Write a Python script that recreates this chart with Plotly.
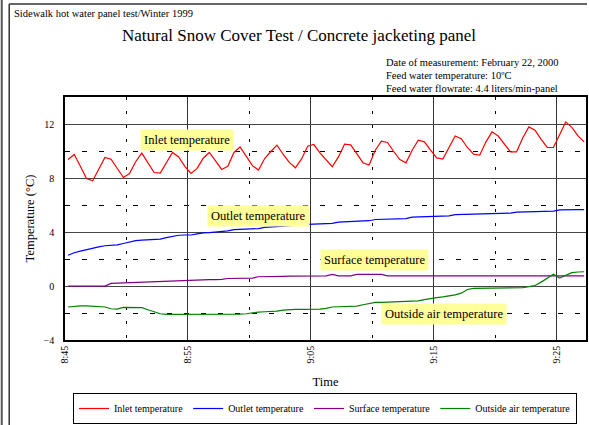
import plotly.graph_objects as go
import pandas as pd

# ---- data (30-second samples starting 8:45:15) ----
start_time = "2000-02-22 08:45:15"
sample_step = "30s"

inlet = [9.41, 9.78, 8.9, 8.0, 7.83, 8.7, 9.56, 9.43, 8.75, 8.07,
         8.37, 9.24, 9.88, 9.15, 8.44, 8.4, 9.15, 9.93, 9.6, 8.9,
         8.37, 8.75, 9.5, 9.93, 9.3, 8.67, 8.9, 9.93, 10.35, 9.6,
         8.95, 8.62, 9.48, 10.0, 10.47, 9.8, 9.19, 8.79, 9.45, 10.4,
         10.52, 9.9, 9.35, 8.87, 9.6, 10.55, 10.5, 9.8, 9.17, 9.0,
         10.1, 10.77, 10.67, 10.0, 9.4, 9.16, 10.1, 10.84, 10.72, 10.1,
         9.53, 9.44, 10.3, 11.16, 10.95, 10.3, 9.8, 9.73, 10.7, 11.46,
         11.15, 10.55, 9.98, 9.98, 11.0, 11.83, 11.58, 10.9, 10.3, 10.3,
         11.3, 12.2, 11.8, 11.16, 10.72]

outlet = [2.3, 2.48, 2.6, 2.72, 2.83, 2.92, 3.0, 3.04, 3.06, 3.17,
          3.27, 3.38, 3.42, 3.44, 3.46, 3.5, 3.6, 3.68, 3.78, 3.8,
          3.8, 3.88, 3.96, 3.98, 4.02, 4.06, 4.1, 4.2, 4.22, 4.24,
          4.26, 4.28, 4.36, 4.41, 4.43, 4.46, 4.5, 4.5, 4.55, 4.59,
          4.62, 4.64, 4.64, 4.66, 4.76, 4.78, 4.8, 4.82, 4.84, 4.86,
          4.95, 4.97, 4.98, 5.0, 5.0, 5.02, 5.13, 5.15, 5.17, 5.18,
          5.19, 5.2, 5.22, 5.31, 5.32, 5.33, 5.33, 5.34, 5.36, 5.38,
          5.39, 5.4, 5.42, 5.5, 5.52, 5.54, 5.55, 5.56, 5.57, 5.58,
          5.66, 5.68, 5.68, 5.68, 5.68]

surface = [0.0, 0.0, 0.0, 0.0, 0.0, 0.0, 0.0, 0.2, 0.22, 0.23,
           0.24, 0.25, 0.3, 0.32, 0.33, 0.34, 0.35, 0.36, 0.43, 0.44,
           0.45, 0.46, 0.47, 0.48, 0.49, 0.5, 0.57, 0.58, 0.58, 0.59,
           0.6, 0.7, 0.72, 0.72, 0.73, 0.73, 0.74, 0.74, 0.75, 0.75,
           0.76, 0.76, 0.76, 0.88, 0.76, 0.76, 0.77, 0.88, 0.89, 0.89,
           0.89, 0.88, 0.76, 0.76, 0.76, 0.76, 0.76, 0.76, 0.76, 0.76,
           0.76, 0.76, 0.76, 0.76, 0.76, 0.76, 0.76, 0.76, 0.76, 0.76,
           0.76, 0.76, 0.76, 0.76, 0.76, 0.76, 0.76, 0.76, 0.76, 0.76,
           0.76, 0.76, 0.76, 0.76, 0.76]

outside = [-1.55, -1.5, -1.47, -1.47, -1.48, -1.5, -1.55, -1.68, -1.7, -1.58,
           -1.57, -1.57, -1.6, -1.75, -1.9, -2.05, -2.1, -2.1, -2.1, -2.1,
           -2.12, -2.12, -2.1, -2.12, -2.12, -2.12, -2.1, -2.1, -2.08, -2.05,
           -1.98, -1.93, -1.9, -1.88, -1.86, -1.78, -1.73, -1.73, -1.72, -1.72,
           -1.71, -1.7, -1.65, -1.55, -1.53, -1.52, -1.5, -1.48, -1.38, -1.28,
           -1.21, -1.2, -1.18, -1.16, -1.14, -1.12, -1.11, -1.09, -1.0, -0.9,
           -0.85, -0.8, -0.74, -0.65, -0.52, -0.25, -0.17, -0.17, -0.17, -0.17,
           -0.17, -0.17, -0.17, -0.17, -0.12, -0.03, 0.05, 0.3, 0.6, 0.89,
           0.6, 0.8, 1.0, 1.05, 1.07]

series_names = ["Inlet temperature", "Outlet temperature",
                "Surface temperature", "Outside air temperature"]
series_values = [inlet, outlet, surface, outside]
series_colors = ["#FF0000", "#0000FF", "#800080", "#008000"]

# label positions (time, value) for the yellow callouts
label_times = ["2000-02-22 08:54:54", "2000-02-22 09:00:44",
               "2000-02-22 09:10:11", "2000-02-22 09:15:49"]
label_values = [10.85, 5.19, 1.96, -2.04]

times = pd.date_range(start_time, periods=len(inlet), freq=sample_step)

# ---- geometry helpers (pixel -> paper) ----
W, H = 589, 425
ML, MR, MT, MB = 65, 1, 97, 85
PW, PH = W - ML - MR, H - MT - MB


def px(x):
    return (x - ML) / PW


def py(y):
    return (H - MB - y) / PH


FONT = "Liberation Serif"

fig = go.Figure()
for name, vals, col in zip(series_names, series_values, series_colors):
    fig.add_trace(go.Scatter(x=times, y=vals, mode="lines", name=name,
                             line=dict(color=col, width=1.2)))

for name, t, v in zip(series_names, label_times, label_values):
    fig.add_annotation(x=t, y=v, xref="x", yref="y", text=name, showarrow=False,
                       font=dict(family=FONT, size=12.5, color="black"),
                       bgcolor="#FFFF99", borderpad=3)

# header texts
fig.add_annotation(x=px(12), y=py(14), xref="paper", yref="paper", xanchor="left",
                   yanchor="middle", showarrow=False,
                   text="Sidewalk hot water panel test/Winter 1999",
                   font=dict(family=FONT, size=10.5, color="black"))
fig.add_annotation(x=px(300), y=py(35), xref="paper", yref="paper", xanchor="center",
                   yanchor="middle", showarrow=False,
                   text="Natural Snow Cover Test / Concrete jacketing panel",
                   font=dict(family=FONT, size=17, color="black"))
info_lines = ["Date of measurement: February 22, 2000",
              "Feed water temperature: 10ºC",
              "Feed water flowrate: 4.4 liters/min-panel"]
for i, txt in enumerate(info_lines):
    fig.add_annotation(x=px(385), y=py(62 + 13.5 * i), xref="paper", yref="paper",
                       xanchor="left", yanchor="middle", showarrow=False, text=txt,
                       font=dict(family=FONT, size=10.5, color="black"))

# outer frame
frame = dict(color="#333333", width=1.5)
fig.add_shape(type="line", xref="paper", yref="paper", x0=px(9), x1=px(9),
              y0=py(4), y1=py(425), line=frame)
fig.add_shape(type="line", xref="paper", yref="paper", x0=px(9), x1=px(589),
              y0=py(4), y1=py(4), line=frame)
fig.add_shape(type="line", xref="paper", yref="paper", x0=px(1.5), x1=px(1.5),
              y0=py(0), y1=py(425), line=dict(color="#555555", width=2))

fig.update_layout(
    width=W, height=H,
    margin=dict(l=ML, r=MR, t=MT, b=MB),
    paper_bgcolor="white", plot_bgcolor="white",
    font=dict(family=FONT, color="black", size=10),
    showlegend=True,
    legend=dict(orientation="h", x=px(326), xanchor="center", y=py(424),
                yanchor="bottom", bordercolor="black", borderwidth=1,
                bgcolor="white", font=dict(family=FONT, size=10, color="black"),
                itemwidth=30, tracegroupgap=0),
)

fig.update_xaxes(
    type="date",
    range=["2000-02-22 08:45:00", "2000-02-22 09:27:24"],
    tick0="2000-02-22 08:45:00", dtick=600000,
    tickformat="%-H:%M", tickangle=-90,
    tickfont=dict(family=FONT, size=10, color="black"),
    showline=True, linecolor="black", linewidth=1.5, mirror=True,
    showgrid=True, gridcolor="#333333", gridwidth=1,
    minor=dict(dtick=300000, tick0="2000-02-22 08:45:00", showgrid=True,
               gridcolor="black", gridwidth=1, griddash="3px,11px"),
    ticks="", zeroline=False,
    title=dict(text="Time", font=dict(family=FONT, size=12.5, color="black"),
               standoff=15),
)
fig.update_yaxes(
    range=[-4, 14.05], tick0=0, dtick=4,
    tickfont=dict(family=FONT, size=10, color="black"),
    showline=True, linecolor="black", linewidth=1.5, mirror=True,
    showgrid=True, gridcolor="#444444", gridwidth=1.3,
    minor=dict(dtick=2, tick0=0, showgrid=True, gridcolor="black", gridwidth=1,
               griddash="5px,12px"),
    ticks="", ticklabelstandoff=7, zeroline=False,
    title=dict(text="Temperature (°C)",
               font=dict(family=FONT, size=12.5, color="black"), standoff=6),
)

fig.write_html("out.html")
